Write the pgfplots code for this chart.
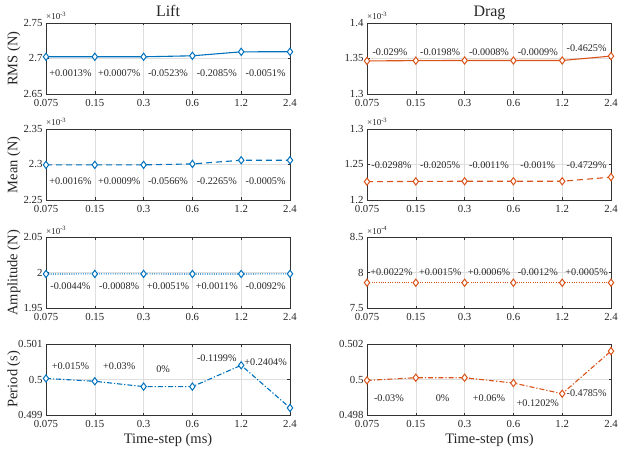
\documentclass[border=0pt]{standalone}
\usepackage{fontspec}
\setmainfont{Liberation Serif}
\usepackage{pgfplots}
\pgfplotsset{compat=1.18}
\definecolor{mblue}{rgb}{0,0.447,0.741}
\definecolor{morange}{rgb}{0.85,0.325,0.098}
\pgfplotsset{
  panel/.style={
    scale only axis, width=244pt, height=71pt,
    xmin=0, xmax=5, xtick={0,1,2,3,4,5},
    xticklabels={0.075,0.15,0.3,0.6,1.2,2.4},
    grid=major, grid style={black!13, line width=0.5pt},
    axis line style={black!80, line width=0.6pt},
    tick align=inside, major tick length=2.5pt, tick style={black!80, line width=0.5pt},
    tick label style={font=\fontsize{10.8}{12}\selectfont, text=black!85},
    xticklabel style={yshift=-2pt},
    clip=false, anchor=south west,
    /pgf/number format/assume math mode=true,
  },
  lplot/.style={color=mblue, line width=1.1pt, mark=diamond*, mark size=3.6pt,
    mark options={solid, fill=white, draw=mblue, line width=1pt}},
  rplot/.style={color=morange, line width=1.1pt, mark=diamond*, mark size=3.6pt,
    mark options={solid, fill=white, draw=morange, line width=1pt}},
  dashsty/.style={dash pattern=on 6pt off 4pt},
  dotsty/.style={dash pattern=on 1pt off 1.3pt},
  dashdotsty/.style={dash pattern=on 5pt off 2pt on 1.2pt off 2pt},
}
\tikzset{
  anno/.style={font=\fontsize{10.2}{12}\selectfont, text=black!85},
  expo/.style={anchor=base west, font=\fontsize{9}{10}\selectfont, text=black!85, inner sep=0pt, yshift=3pt},
  lab/.style={font=\fontsize{14.5}{16}\selectfont, text=black!85},
}
\newcommand{\expo}[1]{×10\raisebox{0.85ex}{\fontsize{6.5}{7}\selectfont #1}}

\pgfplotstableread{
x liftrms dragrms liftmean dragmean liftamp dragamp liftper dragper
0 2.7024 1.3466 2.2995 1.2258 1.9979 7.856 0.50003 0.49995
1 2.7024 1.3470 2.2995 1.2262 1.9980 7.856 0.49995 0.50010
2 2.7024 1.3472 2.2995 1.2264 1.9980 7.856 0.49980 0.50010
3 2.7038 1.3472 2.3008 1.2264 1.9979 7.856 0.49980 0.49980
4 2.7094 1.3472 2.3060 1.2264 1.9979 7.856 0.50040 0.49920
5 2.7095 1.3534 2.3060 1.2322 1.9981 7.856 0.49920 0.50160
}\data

\begin{document}
\begin{tikzpicture}
\useasboundingbox (0,0) rectangle (618pt,453pt);

% ---------------- Row 1: RMS
\begin{axis}[panel, at={(46pt,359pt)}, ymin=2.65, ymax=2.75,
  ytick={2.65,2.7,2.75}, yticklabels={2.65,2.7,2.75}]
\addplot[lplot] table[x=x, y=liftrms] {\data};
\node[expo] at (rel axis cs:0,1) {\expo{-3}};
\node[anno] at (axis cs:0.5,2.6794) {+0.0013\%};
\node[anno] at (axis cs:1.5,2.6794) {+0.0007\%};
\node[anno] at (axis cs:2.5,2.6794) {-0.0523\%};
\node[anno] at (axis cs:3.5,2.6794) {-0.2085\%};
\node[anno] at (axis cs:4.5,2.6794) {-0.0051\%};
\end{axis}

\begin{axis}[panel, at={(367pt,359pt)}, ymin=1.3, ymax=1.4,
  ytick={1.3,1.35,1.4}, yticklabels={1.3,1.35,1.4}]
\addplot[rplot] table[x=x, y=dragrms] {\data};
\node[expo] at (rel axis cs:0,1) {\expo{-3}};
\node[anno] at (axis cs:0.47,1.3594) {-0.029\%};
\node[anno] at (axis cs:1.5,1.3594) {-0.0198\%};
\node[anno] at (axis cs:2.5,1.3594) {-0.0008\%};
\node[anno] at (axis cs:3.5,1.3594) {-0.0009\%};
\node[anno] at (axis cs:4.5,1.3643) {-0.4625\%};
\end{axis}

% ---------------- Row 2: Mean
\begin{axis}[panel, at={(46pt,253pt)}, ymin=2.25, ymax=2.35,
  ytick={2.25,2.3,2.35}, yticklabels={2.25,2.3,2.35}]
\addplot[lplot, dashsty] table[x=x, y=liftmean] {\data};
\node[expo] at (rel axis cs:0,1) {\expo{-3}};
\node[anno] at (axis cs:0.5,2.2769) {+0.0016\%};
\node[anno] at (axis cs:1.5,2.2769) {+0.0009\%};
\node[anno] at (axis cs:2.5,2.2769) {-0.0566\%};
\node[anno] at (axis cs:3.5,2.2769) {-0.2265\%};
\node[anno] at (axis cs:4.5,2.2769) {-0.0005\%};
\end{axis}

\begin{axis}[panel, at={(367pt,253pt)}, ymin=1.2, ymax=1.3,
  ytick={1.2,1.25,1.3}, yticklabels={1.2,1.25,1.3}]
\addplot[rplot, dashsty] table[x=x, y=dragmean] {\data};
\node[expo] at (rel axis cs:0,1) {\expo{-3}};
\node[anno] at (axis cs:0.5,1.2495) {-0.0298\%};
\node[anno] at (axis cs:1.5,1.2495) {-0.0205\%};
\node[anno] at (axis cs:2.5,1.2495) {-0.0011\%};
\node[anno] at (axis cs:3.5,1.2495) {-0.001\%};
\node[anno] at (axis cs:4.5,1.2495) {-0.4729\%};
\end{axis}

% ---------------- Row 3: Amplitude
\begin{axis}[panel, at={(46pt,145pt)}, ymin=1.95, ymax=2.05,
  ytick={1.95,2,2.05}, yticklabels={1.95,2,2.05}]
\addplot[lplot, dotsty] table[x=x, y=liftamp] {\data};
\node[expo] at (rel axis cs:0,1) {\expo{-3}};
\node[anno] at (axis cs:0.5,1.9804) {-0.0044\%};
\node[anno] at (axis cs:1.5,1.9804) {-0.0008\%};
\node[anno] at (axis cs:2.5,1.9804) {+0.0051\%};
\node[anno] at (axis cs:3.5,1.9804) {+0.0011\%};
\node[anno] at (axis cs:4.5,1.9804) {-0.0092\%};
\end{axis}

\begin{axis}[panel, at={(367pt,145pt)}, ymin=7.5, ymax=8.5,
  ytick={7.5,8,8.5}, yticklabels={7.5,8,8.5}]
\addplot[rplot, dotsty] table[x=x, y=dragamp] {\data};
\node[expo] at (rel axis cs:0,1) {\expo{-4}};
\node[anno] at (axis cs:0.5,8.007) {+0.0022\%};
\node[anno] at (axis cs:1.5,8.007) {+0.0015\%};
\node[anno] at (axis cs:2.5,8.007) {+0.0006\%};
\node[anno] at (axis cs:3.5,8.007) {-0.0012\%};
\node[anno] at (axis cs:4.5,8.007) {+0.0005\%};
\end{axis}

% ---------------- Row 4: Period
\begin{axis}[panel, at={(46pt,38pt)}, ymin=0.499, ymax=0.501,
  ytick={0.499,0.5,0.501}, yticklabels={0.499,0.5,0.501}]
\addplot[lplot, dashdotsty] table[x=x, y=liftper] {\data};
\node[anno] at (axis cs:0.5,0.50037) {+0.015\%};
\node[anno] at (axis cs:1.5,0.50037) {+0.03\%};
\node[anno] at (axis cs:2.4,0.50030) {0\%};
\node[anno] at (axis cs:3.5,0.50060) {-0.1199\%};
\node[anno] at (axis cs:4.5,0.50049) {+0.2404\%};
\end{axis}

\begin{axis}[panel, at={(367pt,38pt)}, ymin=0.498, ymax=0.502,
  ytick={0.498,0.5,0.502}, yticklabels={0.498,0.5,0.502}]
\addplot[rplot, dashdotsty] table[x=x, y=dragper] {\data};
\node[anno] at (axis cs:0.45,0.49896) {-0.03\%};
\node[anno] at (axis cs:1.55,0.49896) {0\%};
\node[anno] at (axis cs:2.5,0.49896) {+0.06\%};
\node[anno] at (axis cs:3.5,0.49865) {+0.1202\%};
\node[anno] at (axis cs:4.5,0.49924) {-0.4785\%};
\end{axis}

% ---------------- Titles and labels
\node[anchor=base, font=\fontsize{16}{18}\selectfont, text=black!85] at (168pt,436pt) {Lift};
\node[anchor=base, font=\fontsize{16}{18}\selectfont, text=black!85] at (489.5pt,436pt) {Drag};
\node[lab, rotate=90] at (14pt,394.3pt) {RMS (N)};
\node[lab, rotate=90] at (14pt,288.3pt) {Mean (N)};
\node[lab, rotate=90] at (14pt,180.2pt) {Amplitude (N)};
\node[lab, rotate=90] at (14pt,73.8pt) {Period (s)};
\node[lab, anchor=base] at (168pt,10pt) {Time-step (ms)};
\node[lab, anchor=base] at (489.5pt,10pt) {Time-step (ms)};
\end{tikzpicture}
\end{document}
